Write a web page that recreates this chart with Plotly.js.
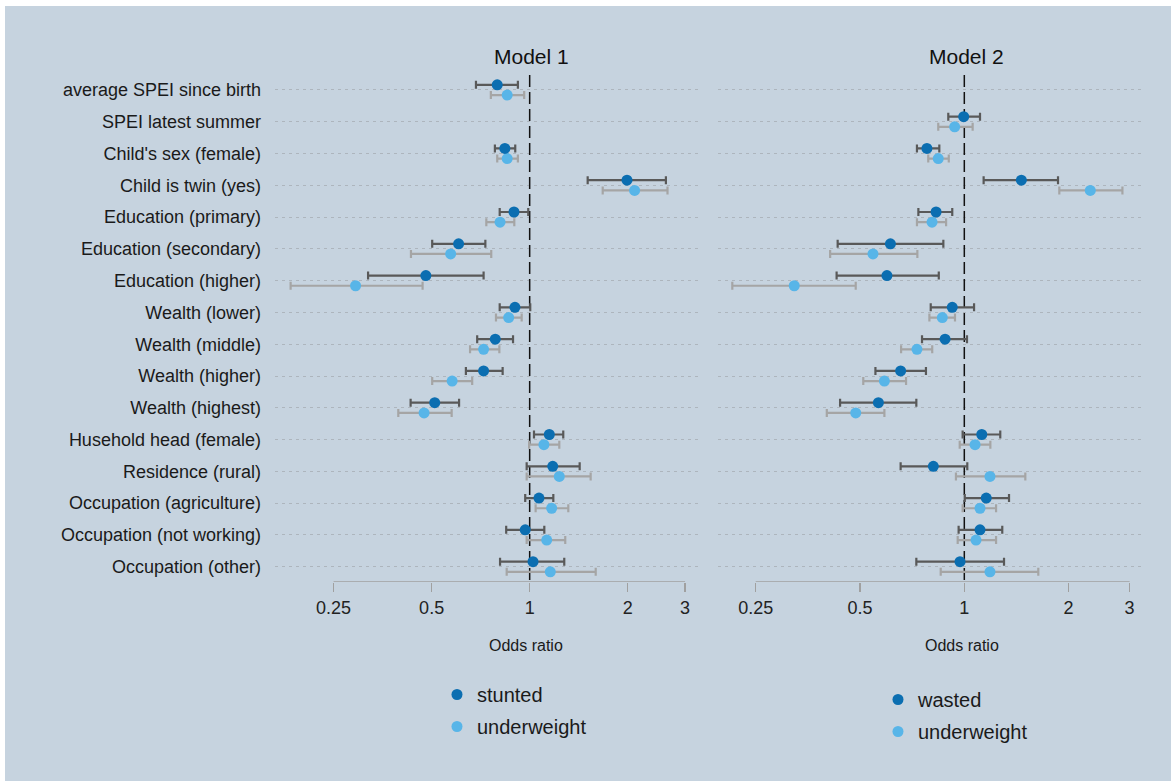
<!DOCTYPE html>
<html>
<head>
<meta charset="utf-8">
<script src="https://cdn.plot.ly/plotly-3.0.1.min.js"></script>
<style>html,body{margin:0;padding:0;background:#fff;}#chart{width:1171px;height:781px;}</style>
</head>
<body>
<div id="chart"></div>
<script>
const categories = [
  "average SPEI since birth", "SPEI latest summer", "Child's sex (female)", "Child is twin (yes)",
  "Education (primary)", "Education (secondary)", "Education (higher)",
  "Wealth (lower)", "Wealth (middle)", "Wealth (higher)", "Wealth (highest)",
  "Husehold head (female)", "Residence (rural)", "Occupation (agriculture)",
  "Occupation (not working)", "Occupation (other)"
];
const xTickVals = [0.25, 0.5, 1, 2, 3];
const xTickText = ["0.25", "0.5", "1", "2", "3"];

// Model 1
const m1StuntedOR = [0.795, null, 0.839, 1.99, 0.895, 0.605, 0.480, 0.901, 0.784, 0.722, 0.511, 1.149, 1.177, 1.068, 0.969, 1.024];
const m1StuntedLo = [0.684, null, 0.782, 1.507, 0.809, 0.502, 0.319, 0.809, 0.690, 0.637, 0.431, 1.031, 0.979, 0.969, 0.847, 0.811];
const m1StuntedHi = [0.920, null, 0.903, 2.62, 0.990, 0.731, 0.722, 1.004, 0.889, 0.826, 0.607, 1.268, 1.424, 1.182, 1.109, 1.277];
const m1UnderOR = [0.853, null, 0.853, 2.10, 0.811, 0.572, 0.292, 0.862, 0.722, 0.578, 0.474, 1.106, 1.233, 1.168, 1.128, 1.157];
const m1UnderLo = [0.760, null, 0.795, 1.676, 0.736, 0.432, 0.1845, 0.788, 0.656, 0.502, 0.395, 0.996, 0.979, 1.043, 0.979, 0.850];
const m1UnderHi = [0.962, null, 0.920, 2.65, 0.897, 0.762, 0.469, 0.945, 0.807, 0.666, 0.576, 1.233, 1.539, 1.314, 1.286, 1.595];

// Model 2
const m2WastedOR = [null, 0.996, 0.780, 1.461, 0.829, 0.612, 0.598, 0.923, 0.880, 0.655, 0.565, 1.123, 0.814, 1.157, 1.110, 0.972];
const m2WastedLo = [null, 0.899, 0.730, 1.137, 0.737, 0.431, 0.428, 0.800, 0.755, 0.554, 0.438, 0.989, 0.655, 1.003, 0.963, 0.727];
const m2WastedHi = [null, 1.110, 0.847, 1.864, 0.923, 0.870, 0.844, 1.067, 1.018, 0.775, 0.727, 1.270, 1.020, 1.346, 1.287, 1.302];
const m2UnderOR = [null, 0.938, 0.841, 2.31, 0.807, 0.545, 0.323, 0.864, 0.730, 0.588, 0.486, 1.074, 1.186, 1.110, 1.081, 1.186];
const m2UnderLo = [null, 0.841, 0.787, 1.88, 0.730, 0.410, 0.214, 0.793, 0.657, 0.511, 0.401, 0.970, 0.946, 0.989, 0.957, 0.855];
const m2UnderHi = [null, 1.057, 0.902, 2.86, 0.886, 0.732, 0.486, 0.940, 0.808, 0.679, 0.588, 1.189, 1.50, 1.235, 1.235, 1.635];

const FONT = "Liberation Sans, Arial, sans-serif";
const DARK = "#0b6eb1", LIGHT = "#58b5e8";
const WDARK = "#595959", WLIGHT = "#a5a5a5";
const rowIdx = categories.map((c, i) => i);
const yTop = -0.47, yBot = 15.48;
const OFF = 0.16;

function series(name, orv, lo, hi, col, wcol, shift, xa, ya, legend, group, rank) {
  return {
    type: "scatter", mode: "markers", name: name,
    x: orv, y: rowIdx.map(i => i + shift),
    xaxis: xa, yaxis: ya, legend: legend, legendgroup: group, legendrank: rank,
    marker: {color: col, size: 11, symbol: "circle"},
    error_x: {
      type: "data", symmetric: false,
      array: orv.map((v, i) => v == null ? null : hi[i] - v),
      arrayminus: orv.map((v, i) => v == null ? null : v - lo[i]),
      color: wcol, thickness: 2.2, width: 4
    },
    cliponaxis: false, hoverinfo: "x+y"
  };
}
function refLine(xa, ya) {
  return {type: "scatter", mode: "lines", x: [1, 1], y: [yTop, yBot], xaxis: xa, yaxis: ya,
    line: {color: "#111", width: 1.5, dash: "12px,5px"}, showlegend: false, hoverinfo: "skip", cliponaxis: false};
}
function axisLine(xa, ya) {
  return {type: "scatter", mode: "lines", x: [xTickVals[0], xTickVals[xTickVals.length - 1]], y: [yBot, yBot],
    xaxis: xa, yaxis: ya, line: {color: "#a0a0a0", width: 1.5}, showlegend: false, hoverinfo: "skip", cliponaxis: false};
}

const traces = [
  refLine("x", "y"), refLine("x2", "y2"), axisLine("x", "y"), axisLine("x2", "y2"),
  series("underweight", m1UnderOR, m1UnderLo, m1UnderHi, LIGHT, WLIGHT, OFF, "x", "y", "legend", "b", 2),
  series("stunted", m1StuntedOR, m1StuntedLo, m1StuntedHi, DARK, WDARK, -OFF, "x", "y", "legend", "a", 1),
  series("underweight", m2UnderOR, m2UnderLo, m2UnderHi, LIGHT, WLIGHT, OFF, "x2", "y2", "legend2", "d", 2),
  series("wasted", m2WastedOR, m2WastedLo, m2WastedHi, DARK, WDARK, -OFF, "x2", "y2", "legend2", "c", 1)
];

const W = 1171, H = 781;
const xCommon = {
  type: "log", tickvals: xTickVals, ticktext: xTickText, ticks: "outside", ticklen: 9, tickwidth: 1.5,
  tickcolor: "#a0a0a0", showline: false, showgrid: false, zeroline: false,
  tickfont: {family: FONT, size: 18, color: "#222"}, anchor: "y"
};
const yCommon = {
  range: [yBot, yTop], tickvals: rowIdx, ticktext: categories, showgrid: true,
  gridcolor: "#adb5bd", griddash: "3px,4px", gridwidth: 1, zeroline: false, showline: false, ticks: "",
  tickfont: {family: FONT, size: 18, color: "#1a1a1a"}, domain: [1 - 582 / H, 1 - 75 / H]
};

const layout = {
  width: W, height: H, margin: {l: 0, r: 0, t: 0, b: 0},
  paper_bgcolor: "#ffffff", plot_bgcolor: "rgba(0,0,0,0)",
  font: {family: FONT, color: "#1a1a1a"},
  showlegend: true,
  xaxis: Object.assign({}, xCommon, {domain: [275 / W, 700 / W], range: [-0.782, 0.523], anchor: "y"}),
  xaxis2: Object.assign({}, xCommon, {domain: [718.3 / W, 1143.3 / W], range: [-0.710, 0.5166], anchor: "y2"}),
  yaxis: Object.assign({}, yCommon, {anchor: "x", ticklabelstandoff: 13}),
  yaxis2: Object.assign({}, yCommon, {anchor: "x2", showticklabels: false}),
  legend: {x: 437 / W, y: 1 - 675 / H, xanchor: "left", yanchor: "top", bgcolor: "rgba(0,0,0,0)",
    font: {family: FONT, size: 20, color: "#1a1a1a"}, tracegroupgap: 3, traceorder: "grouped"},
  legend2: {x: 878 / W, y: 1 - 680 / H, xanchor: "left", yanchor: "top", bgcolor: "rgba(0,0,0,0)",
    font: {family: FONT, size: 20, color: "#1a1a1a"}, tracegroupgap: 3, traceorder: "grouped"},
  shapes: [
    {type: "rect", xref: "paper", yref: "paper", x0: 5 / W, x1: 1, y0: 0, y1: 1 - 6 / H,
      fillcolor: "#c6d3df", line: {width: 0}, layer: "below"}
  ],
  annotations: [
    {text: "Model 1", xref: "paper", yref: "paper", x: 531.5 / W, y: 1 - 56 / H, showarrow: false,
      xanchor: "center", yanchor: "middle", font: {family: FONT, size: 21, color: "#111"}},
    {text: "Model 2", xref: "paper", yref: "paper", x: 966 / W, y: 1 - 56 / H, showarrow: false,
      xanchor: "center", yanchor: "middle", font: {family: FONT, size: 21, color: "#111"}},
    {text: "Odds ratio", xref: "paper", yref: "paper", x: 526 / W, y: 1 - 645 / H, showarrow: false,
      xanchor: "center", yanchor: "middle", font: {family: FONT, size: 16, color: "#1a1a1a"}},
    {text: "Odds ratio", xref: "paper", yref: "paper", x: 962 / W, y: 1 - 645 / H, showarrow: false,
      xanchor: "center", yanchor: "middle", font: {family: FONT, size: 16, color: "#1a1a1a"}}
  ]
};

Plotly.newPlot("chart", traces, layout, {displayModeBar: false, staticPlot: true});
</script>
</body>
</html>
